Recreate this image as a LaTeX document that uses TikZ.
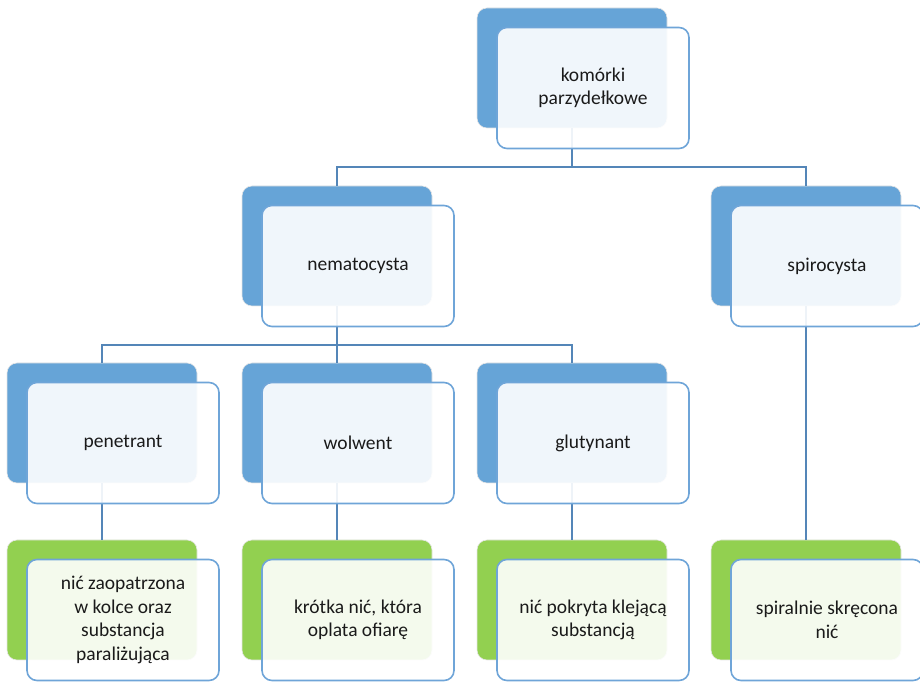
\documentclass[tikz,border=0pt]{standalone}
\usepackage{fontspec}
\setmainfont{Carlito}
\usetikzlibrary{calc}
\definecolor{backblue}{RGB}{102,164,215}
\definecolor{backgreen}{RGB}{146,208,80}
\definecolor{frameblue}{RGB}{111,165,216}
\definecolor{linkblue}{RGB}{84,134,184}
\definecolor{textgray}{RGB}{26,26,26}
\tikzset{
  backbox/.style={rectangle, rounded corners=10pt, minimum width=190pt, minimum height=120pt,
    draw=black!10, line width=0.6pt, inner sep=0pt},
  blueback/.style={backbox, fill=backblue},
  greenback/.style={backbox, fill=backgreen},
  frontbox/.style={rectangle, rounded corners=10pt, minimum width=192pt, minimum height=121pt,
    draw=frameblue, line width=1.6pt, fill=white, fill opacity=0.9, text opacity=1,
    text=textgray, align=center, font=\fontsize{19.5}{23.5}\selectfont},
  link/.style={draw=linkblue, line width=2pt}
}

\begin{document}
\begin{tikzpicture}[x=1pt,y=1pt]
	\useasboundingbox (0,0) rectangle (920,682);

	% back boxes
	\node [blueback] (topB) at (572,614) {};
	\node [blueback] (nemaB) at (337,436) {};
	\node [blueback] (spiroB) at (806,436) {};
	\node [blueback] (penB) at (102,259) {};
	\node [blueback] (wolB) at (337,259) {};
	\node [blueback] (gluB) at (572,259) {};
	\node [greenback] (penG) at (102,82) {};
	\node [greenback] (wolG) at (337,82) {};
	\node [greenback] (gluG) at (572,82) {};
	\node [greenback] (spiroG) at (806,82) {};

	% connectors
	\draw [link] (topB.south) -- ++(0,-39) -| (nemaB.north);
	\draw [link] (topB.south) -- ++(0,-39) -| (spiroB.north);
	\draw [link] (nemaB.south) -- ++(0,-39) -| (penB.north);
	\draw [link] (nemaB.south) -- (wolB.north);
	\draw [link] (nemaB.south) -- ++(0,-39) -| (gluB.north);
	\draw [link] (penB.south) -- (penG.north);
	\draw [link] (wolB.south) -- (wolG.north);
	\draw [link] (gluB.south) -- (gluG.north);
	\draw [link] (spiroB.south) -- (spiroG.north);

	% front boxes
	\node [frontbox] (top) at ([shift={(21,-20)}]topB.center) {komórki\\parzydełkowe};
	\node [frontbox] (nema) at ([shift={(21,-20)}]nemaB.center) {nematocysta};
	\node [frontbox] (spiro) at ([shift={(21,-20)}]spiroB.center) {spirocysta};
	\node [frontbox] (pen) at ([shift={(21,-20)}]penB.center) {penetrant};
	\node [frontbox] (wol) at ([shift={(21,-20)}]wolB.center) {wolwent};
	\node [frontbox] (glu) at ([shift={(21,-20)}]gluB.center) {glutynant};
	\node [frontbox] (penT) at ([shift={(21,-20)}]penG.center) {nić zaopatrzona\\w kolce oraz\\substancja\\paraliżująca};
	\node [frontbox] (wolT) at ([shift={(21,-20)}]wolG.center) {krótka nić, która\\oplata ofiarę};
	\node [frontbox] (gluT) at ([shift={(21,-20)}]gluG.center) {nić pokryta klejącą\\substancją};
	\node [frontbox] (spiroT) at ([shift={(21,-20)}]spiroG.center) {spiralnie skręcona\\nić};
\end{tikzpicture}
\end{document}
